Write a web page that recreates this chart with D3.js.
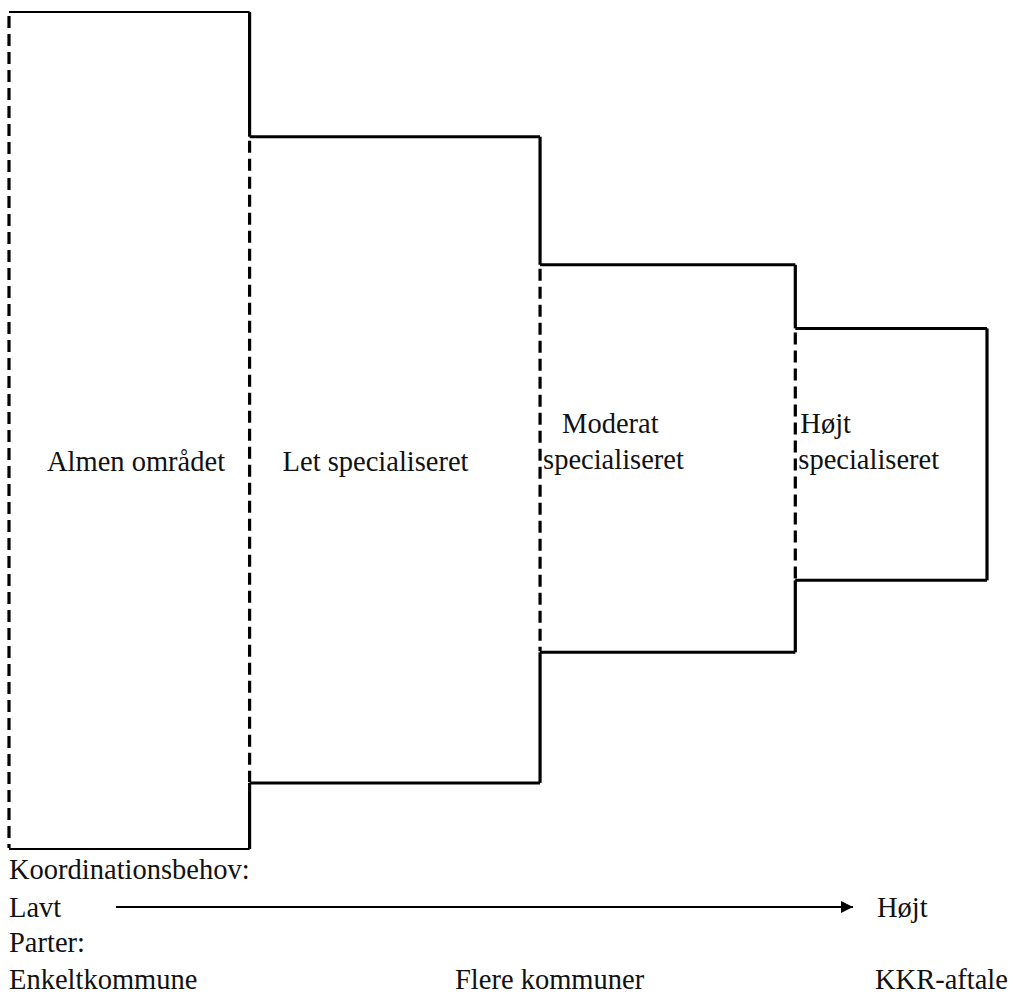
<!DOCTYPE html>
<html>
<head>
<meta charset="utf-8">
<script src="https://cdn.jsdelivr.net/npm/d3@7"></script>
<style>
  body { margin: 0; background: #fff; }
  text { font-family: "Liberation Serif", "DejaVu Serif", serif; fill: #111; }
</style>
</head>
<body>
<div id="chart"></div>
<script>
// levels of specialisation, widest scope on the left
const levels = ["Almen området", "Let specialiseret", "Moderat specialiseret", "Højt specialiseret"];
const levelLines = [["Almen området"], ["Let specialiseret"], ["Moderat", "specialiseret"], ["Højt", "specialiseret"]];
// extent of each block on a 0-100 scale
const topValues = [100, 85.1, 69.8, 62.2];
const bottomValues = [0, 7.9, 23.5, 32.1];
const edgeValues = [0, 24.6, 54.3, 80.4, 100];

const axisTitle = "Koordinationsbehov:";
const axisEnds = ["Lavt", "Højt"];
const partiesTitle = "Parter:";
const parties = ["Enkeltkommune", "Flere kommuner", "KKR-aftale"];

const fullWidth = 1013;
const fullHeight = 997;
const fs = "28.5px";

const svg = d3.select("#chart").append("svg")
    .attr("width", fullWidth)
    .attr("height", fullHeight);

const x = d3.scaleLinear().domain([0, 100]).range([9, 987]);
const y = d3.scaleLinear().domain([0, 100]).range([849, 12]);

const blocks = levels.map((name, i) => ({
    name,
    lines: levelLines[i],
    x0: x(edgeValues[i]),
    x1: x(edgeValues[i + 1]),
    y0: y(topValues[i]),
    y1: y(bottomValues[i]),
    next: i < levels.length - 1 ? { y0: y(topValues[i + 1]), y1: y(bottomValues[i + 1]) } : null
}));

const g = svg.append("g");

// solid top and bottom edges
g.selectAll(".hedge")
    .data(blocks.flatMap(b => [{ b, yy: b.y0 }, { b, yy: b.y1 }]))
    .join("line")
    .attr("x1", d => d.b.x0)
    .attr("x2", d => d.b.x1)
    .attr("y1", d => d.yy)
    .attr("y2", d => d.yy)
    .style("stroke", "#000")
    .style("stroke-width", (d, i) => i < 2 ? 2.2 : 3);

// solid right edge, only where the next block does not continue it
g.selectAll(".redge")
    .data(blocks.flatMap(b => b.next
        ? [{ x: b.x1, a: b.y0, z: b.next.y0 }, { x: b.x1, a: b.next.y1, z: b.y1 }]
        : [{ x: b.x1, a: b.y0, z: b.y1 }]))
    .join("line")
    .attr("x1", d => d.x)
    .attr("x2", d => d.x)
    .attr("y1", d => d.a)
    .attr("y2", d => d.z)
    .style("stroke", "#000")
    .style("stroke-width", 3.2);

// dashed left edge
g.selectAll(".ledge")
    .data(blocks)
    .join("line")
    .attr("x1", d => d.x0)
    .attr("x2", d => d.x0)
    .attr("y1", d => d.y0 + 4)
    .attr("y2", d => d.y1 - 1)
    .style("stroke", "#000")
    .style("stroke-width", 3.2)
    .style("stroke-dasharray", "12,6");

// labels inside the blocks
const labelDx = [[38], [33], [22, 3], [5, 3]];
const labelY = [[471], [471], [433, 469], [433, 469]];
blocks.forEach((b, i) => {
    g.selectAll(null)
        .data(b.lines)
        .join("text")
        .attr("x", (d, j) => b.x0 + labelDx[i][j])
        .attr("y", (d, j) => labelY[i][j])
        .style("font-size", fs)
        .text(d => d);
});

// coordination axis
svg.append("defs").append("marker")
    .attr("id", "arrow")
    .attr("viewBox", "0 0 10 10")
    .attr("refX", 10)
    .attr("refY", 5)
    .attr("markerWidth", 15)
    .attr("markerHeight", 12)
    .attr("markerUnits", "userSpaceOnUse")
    .attr("orient", "auto")
    .append("path")
    .attr("d", "M0,0L10,5L0,10z")
    .style("fill", "#000");

const bottom = svg.append("g");

bottom.append("text").attr("x", 9).attr("y", 879).style("font-size", fs).text(axisTitle);
bottom.append("text").attr("x", 9).attr("y", 917).style("font-size", fs).text(axisEnds[0]);
bottom.append("line")
    .attr("x1", 116).attr("x2", 853)
    .attr("y1", 907).attr("y2", 907)
    .style("stroke", "#000")
    .style("stroke-width", 2)
    .attr("marker-end", "url(#arrow)");
bottom.append("text").attr("x", 877).attr("y", 917).style("font-size", fs).text(axisEnds[1]);
bottom.append("text").attr("x", 9).attr("y", 952).style("font-size", fs).text(partiesTitle);

const partyX = [9, 455, 875];
bottom.selectAll(".party")
    .data(parties)
    .join("text")
    .attr("x", (d, i) => partyX[i])
    .attr("y", 989)
    .style("font-size", fs)
    .text(d => d);
</script>
</body>
</html>
